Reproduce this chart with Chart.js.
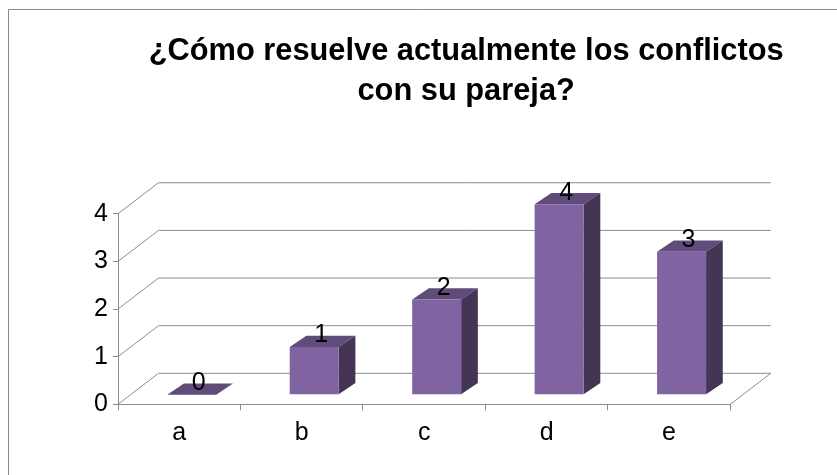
<!DOCTYPE html>
<html><head><meta charset="utf-8">
<style>html,body{margin:0;padding:0;background:#fff}canvas{display:block}</style>
<script src="https://cdn.jsdelivr.net/npm/chart.js@4"></script></head>
<body><div style="width:837px;height:475px;position:relative"><canvas id="c" width="837" height="475"></canvas></div>
<script>
const categories = ['a','b','c','d','e'];
const values = [0,1,2,4,3];
const yTicks = [0,1,2,3,4];
const titleLines = ['¿Cómo resuelve actualmente los conflictos','con su pareja?'];
const FONT = '"Liberation Sans", Arial, sans-serif';
const wall = {dx:40.5, dy:31}, barShift = {dx:12.5, dy:9.6}, barDepth = {dx:16.7, dy:11.3};
const GRID = '#8c8c8c';
const threeD = {
  id:'threeD',
  afterLayout(chart){
    const t = chart.titleBlock; t.left += 101; t.right += 101;
  },
  beforeDraw(chart){
    const {ctx,scales:{x,y},chartArea:a} = chart;
    ctx.save();
    ctx.strokeStyle = '#8a8a8a'; ctx.lineWidth = 1;
    ctx.beginPath(); ctx.moveTo(8.5,475); ctx.lineTo(8.5,9.5); ctx.lineTo(837,9.5); ctx.stroke();
    ctx.strokeStyle = GRID;
    yTicks.forEach(v=>{
      const py = y.getPixelForValue(v);
      ctx.beginPath();
      ctx.moveTo(a.left,py);
      ctx.lineTo(a.left+wall.dx,py-wall.dy);
      ctx.lineTo(a.right+wall.dx,py-wall.dy);
      ctx.stroke();
    });
    ctx.beginPath();
    ctx.moveTo(a.right,a.bottom); ctx.lineTo(a.right+wall.dx,a.bottom-wall.dy); ctx.stroke();
    ctx.restore();
  },
  beforeDatasetDraw(chart){
    const ctx = chart.ctx; ctx.save();
    ctx.translate(barShift.dx,-barShift.dy);
    chart.getDatasetMeta(0).data.forEach(b=>{
      const p = b.getProps(['x','y','base','width'],true);
      const l=p.x-p.width/2, r=p.x+p.width/2, d=barDepth;
      ctx.fillStyle='#604C7A';
      ctx.beginPath();ctx.moveTo(l,p.y);ctx.lineTo(l+d.dx,p.y-d.dy);ctx.lineTo(r+d.dx,p.y-d.dy);ctx.lineTo(r,p.y);ctx.fill();
      if(p.base-p.y>0.5){
        ctx.fillStyle='#433553';
        ctx.beginPath();ctx.moveTo(r,p.y);ctx.lineTo(r+d.dx,p.y-d.dy);ctx.lineTo(r+d.dx,p.base-d.dy);ctx.lineTo(r,p.base);ctx.fill();
      }
    });
  },
  afterDatasetDraw(chart){
    chart.ctx.restore();
    const ctx = chart.ctx; ctx.save();
    ctx.font='25px '+FONT; ctx.fillStyle='#000'; ctx.textAlign='center'; ctx.textBaseline='middle';
    chart.getDatasetMeta(0).data.forEach((b,i)=>{
      const p=b.getProps(['x','y'],true);
      ctx.fillText(String(values[i]),p.x+barShift.dx+7,p.y-barShift.dy-11.5);
    });
    ctx.restore();
  }
};
new Chart(document.getElementById('c'),{
  type:'bar',
  data:{labels:categories,datasets:[{data:values,backgroundColor:'#8064A2',borderWidth:0,barPercentage:0.4,categoryPercentage:1,clip:false}]},
  plugins:[threeD],
  options:{
    responsive:false,animation:false,
    layout:{padding:{left:0,right:106.7,top:0,bottom:0}},
    plugins:{legend:{display:false},tooltip:{enabled:false},
      title:{display:true,text:titleLines,color:'#000',font:{family:FONT,size:30.8,weight:'bold',lineHeight:1.3},padding:{top:31,bottom:102.7}}},
    scales:{
      x:{grid:{drawOnChartArea:false,color:GRID,tickLength:6,offset:true},border:{color:GRID},
         afterFit(s){s.height=70.7;},
         ticks:{color:'#000',font:{family:FONT,size:25},padding:8,maxRotation:0}},
      y:{min:0,max:4,grid:{drawOnChartArea:false,color:GRID,tickLength:5},border:{color:GRID},
         afterFit(s){s.width=118;},
         ticks:{color:'#000',font:{family:FONT,size:25},stepSize:1,padding:5}}
    }
  }
});
</script></body></html>
